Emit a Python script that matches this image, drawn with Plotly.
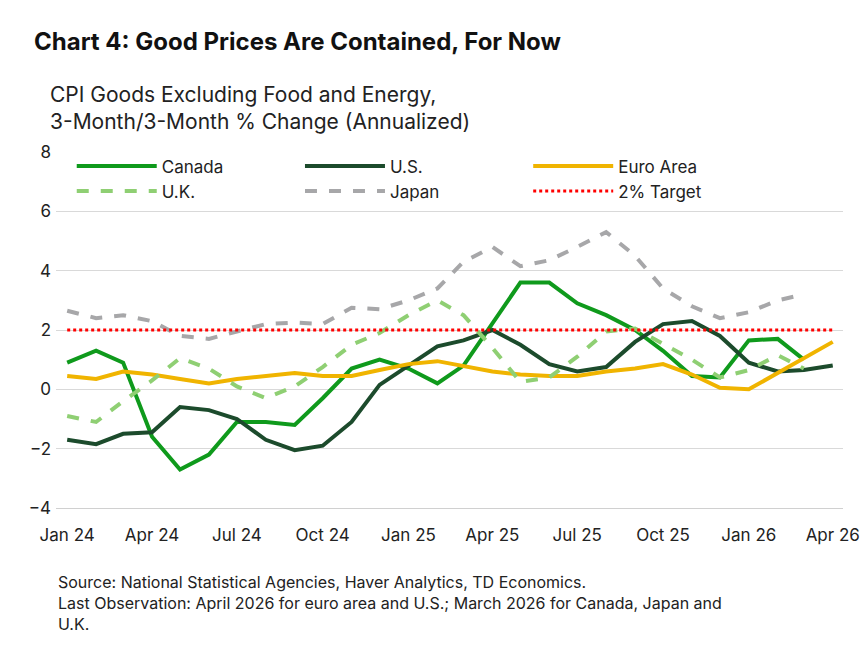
import plotly.graph_objects as go
import pandas as pd

dates = pd.date_range("2024-01-01", "2026-04-01", freq="MS")
canada = [0.9,1.3,0.9,-1.6,-2.7,-2.2,-1.1,-1.1,-1.2,-0.3,0.7,1.0,0.7,0.2,0.8,2.2,3.6,3.6,2.9,2.5,2.0,1.3,0.45,0.4,1.65,1.7,1.0]
us = [-1.7,-1.85,-1.5,-1.45,-0.6,-0.7,-1.0,-1.7,-2.05,-1.9,-1.1,0.15,0.8,1.45,1.65,2.0,1.5,0.85,0.6,0.75,1.6,2.2,2.3,1.8,0.9,0.6,0.65,0.8]
euro = [0.45,0.35,0.6,0.5,0.35,0.2,0.35,0.45,0.55,0.45,0.45,0.65,0.85,0.95,0.8,0.6,0.5,0.45,0.45,0.6,0.7,0.85,0.5,0.05,0.0,0.55,1.05,1.6]
uk = [-0.9,-1.1,-0.4,0.3,1.05,0.7,0.1,-0.3,0.1,0.75,1.5,1.9,2.5,3.0,2.5,1.4,0.25,0.4,1.1,1.95,2.05,1.55,1.0,0.4,0.65,1.15,0.7]
japan = [2.65,2.4,2.5,2.3,1.8,1.7,1.95,2.2,2.25,2.2,2.75,2.7,3.0,3.4,4.3,4.8,4.15,4.35,4.8,5.3,4.5,3.4,2.8,2.4,2.6,3.0,3.2]
target = [2.0]*len(dates)
tickvals = pd.date_range("2024-01-01", "2026-04-01", freq="3MS")
ticktext = ["Jan 24","Apr 24","Jul 24","Oct 24","Jan 25","Apr 25","Jul 25","Oct 25","Jan 26","Apr 26"]

fig = go.Figure()
def add(name, y, color, dash="solid", width=4):
    fig.add_trace(go.Scatter(x=dates[:len(y)], y=y, name=name, mode="lines",
                             line=dict(color=color, width=width, dash=dash)))
add("Canada", canada, "#0f9a1c")
add("U.S.", us, "#1c4b2c")
add("Euro Area", euro, "#f0b400")
add("U.K.", uk, "#8fcf73", dash="dash")
add("Japan", japan, "#a7a7a9", dash="dash")
add("2% Target", target, "#ff0000", dash="dot", width=3)

fig.update_layout(
    width=868, height=648, plot_bgcolor="white", paper_bgcolor="white",
    font=dict(family="Inter, Lato, sans-serif", color="#222", size=17),
    margin=dict(l=48, r=33, t=144, b=148),
    showlegend=True,
    legend=dict(orientation="h", x=0.02, y=1.01, xanchor="left", yanchor="top",
                entrywidth=0.29, entrywidthmode="fraction", font=dict(size=17),
                bgcolor="rgba(0,0,0,0)", tracegroupgap=0, itemwidth=80),
    xaxis=dict(tickvals=tickvals, ticktext=ticktext, showgrid=False,
               range=["2023-12-20", "2026-04-12"], showline=True, linecolor="#d0d0d0",
               ticks="", tickfont=dict(size=17), ticklabelstandoff=12),
    yaxis=dict(range=[-4, 8], dtick=2, showgrid=True, gridcolor="#d9d9d9",
               zeroline=False, tickfont=dict(size=17), ticks="", ticklabelstandoff=4),
)
fig.add_annotation(text="<b>Chart 4: Good Prices Are Contained, For Now</b>", xref="paper", yref="paper",
                   x=-0.03, y=1.0, yshift=94, xanchor="left", yanchor="bottom", showarrow=False,
                   font=dict(size=24, color="#111"))
fig.add_annotation(text="CPI Goods Excluding Food and Energy,<br>3-Month/3-Month % Change (Annualized)",
                   xref="paper", yref="paper", x=-0.01, y=1.0, yshift=16, xanchor="left", yanchor="bottom",
                   showarrow=False, align="left", font=dict(size=21, color="#222"))
fig.add_annotation(text="Source: National Statistical Agencies, Haver Analytics, TD Economics.<br>Last Observation: April 2026 for euro area and U.S.; March 2026 for Canada, Japan and<br>U.K.",
                   xref="paper", yref="paper", x=0.0, y=0, yshift=-62, xanchor="left", yanchor="top",
                   showarrow=False, align="left", font=dict(size=16, color="#222"))
fig.write_html("out.html")
